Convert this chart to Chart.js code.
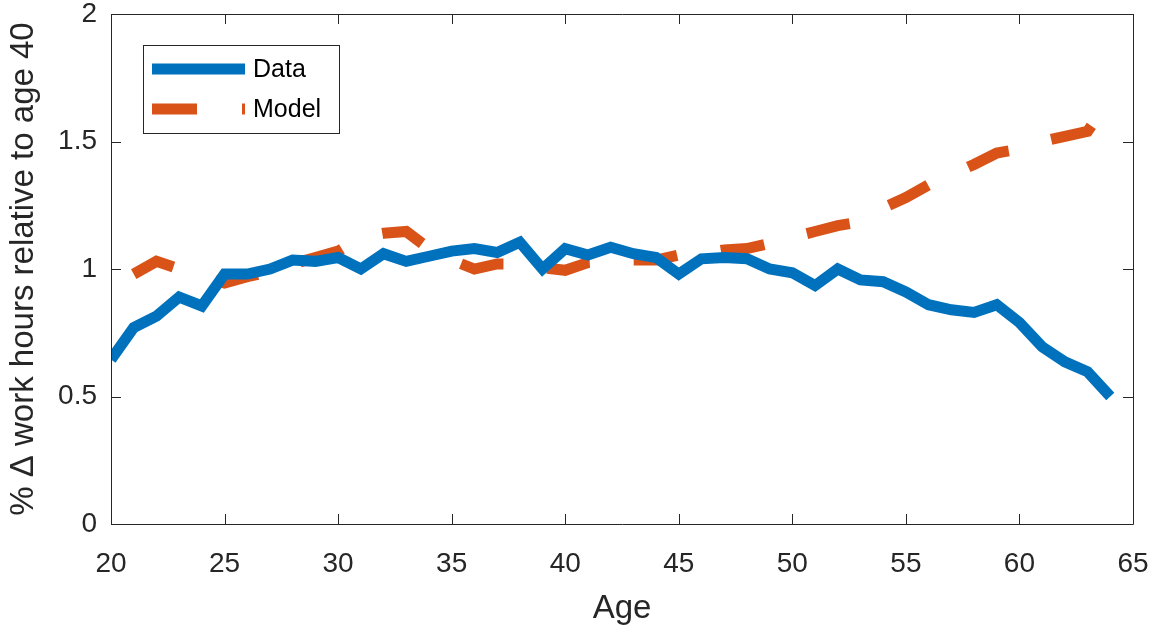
<!DOCTYPE html>
<html>
<head>
<meta charset="utf-8">
<script src="https://cdn.jsdelivr.net/npm/chart.js@4"></script>
<style>
  html, body { margin: 0; padding: 0; background: #ffffff; }
  #wrap { width: 1159px; height: 633px; position: relative; }
</style>
</head>
<body>
<div id="wrap"><canvas id="chart"></canvas></div>
<script>
// Ages 20..64
const ages = [20, 21, 22, 23, 24, 25, 26, 27, 28, 29, 30, 31, 32, 33, 34, 35, 36, 37, 38, 39, 40, 41,
  42, 43, 44, 45, 46, 47, 48, 49, 50, 51, 52, 53, 54, 55, 56, 57, 58, 59, 60, 61, 62, 63, 64];

const dataValues = [0.645, 0.77, 0.815, 0.89, 0.855, 0.98, 0.98, 1.0, 1.035, 1.03, 1.045, 1.0, 1.06, 1.03, 1.05,
  1.07, 1.08, 1.065, 1.105, 1.0, 1.08, 1.055, 1.085, 1.06, 1.045, 0.98, 1.04, 1.045, 1.04, 1.0,
  0.985, 0.935, 1.0, 0.957, 0.95, 0.91, 0.86, 0.84, 0.83, 0.86, 0.79, 0.695, 0.636, 0.597, 0.5];

const modelValues = [null, 0.98, 1.03, 1.0, 0.97, 0.945, 0.97, 0.99, 1.02, 1.045, 1.07, 1.125, 1.14, 1.147, 1.08,
  1.035, 1.0, 1.02, 1.02, 1.005, 0.995, 1.025, 1.03, 1.035, 1.035, 1.055, 1.06, 1.075, 1.08, 1.1,
  1.125, 1.147, 1.17, 1.185, 1.24, 1.28, 1.33, 1.37, 1.41, 1.455, 1.47, 1.5, 1.52, 1.54, 1.67];

const xTicks = [20, 25, 30, 35, 40, 45, 50, 55, 60, 65];
const yTicks = [0, 0.5, 1, 1.5, 2];

const axisColor = '#262626';
const blue = '#0072BD';
const orange = '#D95319';
const fontFamily = '"Liberation Sans", Arial, Helvetica, sans-serif';

function toPoints(vals) {
  return ages.map((a, i) => ({ x: a, y: vals[i] }));
}

// Box around the axes with inward ticks on all four sides (MATLAB style)
const boxPlugin = {
  id: 'boxAxes',
  afterDatasetsDraw(chart) {
    const { ctx, chartArea: a, scales } = chart;
    const len = 10;
    ctx.save();
    ctx.strokeStyle = axisColor;
    ctx.lineWidth = 1;
    ctx.beginPath();
    ctx.rect(Math.round(a.left) + 0.5, Math.round(a.top) + 0.5, Math.round(a.right - a.left), Math.round(a.bottom - a.top));
    xTicks.forEach(v => {
      const px = Math.round(scales.x.getPixelForValue(v)) + 0.5;
      ctx.moveTo(px, a.bottom); ctx.lineTo(px, a.bottom - len);
      ctx.moveTo(px, a.top); ctx.lineTo(px, a.top + len);
    });
    yTicks.forEach(v => {
      const py = Math.round(scales.y.getPixelForValue(v)) + 0.5;
      ctx.moveTo(a.left, py); ctx.lineTo(a.left + len, py);
      ctx.moveTo(a.right, py); ctx.lineTo(a.right - len, py);
    });
    ctx.stroke();
    ctx.restore();
  }
};

// Legend drawn inside the axes, top-left
const legendPlugin = {
  id: 'boxLegend',
  afterDraw(chart) {
    const { ctx } = chart;
    const x = 143, y = 45, w = 196, h = 88;
    ctx.save();
    ctx.fillStyle = '#ffffff';
    ctx.fillRect(x, y, w, h);
    ctx.strokeStyle = axisColor;
    ctx.lineWidth = 1;
    ctx.strokeRect(x + 0.5, y + 0.5, w, h);
    chart.data.datasets.forEach((ds, i) => {
      const ly = 69 + i * 40;
      ctx.strokeStyle = ds.borderColor;
      ctx.lineWidth = ds.borderWidth;
      ctx.lineCap = 'butt';
      ctx.setLineDash([45, 45]);
      if (!ds.borderDash) ctx.setLineDash([]);
      ctx.beginPath();
      ctx.moveTo(152, ly);
      ctx.lineTo(245, ly);
      ctx.stroke();
      ctx.setLineDash([]);
      ctx.fillStyle = '#000000';
      ctx.font = '25px ' + fontFamily;
      ctx.textBaseline = 'middle';
      ctx.textAlign = 'left';
      ctx.fillText(ds.label, 253, ly + 1);
    });
    ctx.restore();
  }
};

new Chart(document.getElementById('chart'), {
  type: 'line',
  data: {
    datasets: [{
      label: 'Data',
      data: toPoints(dataValues),
      borderColor: blue,
      borderWidth: 11,
      pointRadius: 0,
      fill: false,
      tension: 0
    }, {
      label: 'Model',
      data: toPoints(modelValues),
      borderColor: orange,
      borderWidth: 11,
      borderDash: [44, 44],
      borderCapStyle: 'butt',
      pointRadius: 0,
      fill: false,
      spanGaps: false,
      tension: 0
    }]
  },
  options: {
    responsive: true,
    maintainAspectRatio: false,
    animation: false,
    layout: { padding: { left: 0, right: 26, top: 14, bottom: 0 } },
    plugins: {
      legend: { display: false },
      tooltip: { enabled: false }
    },
    scales: {
      x: {
        type: 'linear',
        min: 20,
        max: 65,
        afterBuildTicks: s => { s.ticks = xTicks.map(v => ({ value: v })); },
        afterFit: s => { s.height = 109; s.paddingLeft = 0; s.paddingRight = 0; },
        grid: { display: false, drawTicks: false },
        border: { display: false },
        ticks: { color: axisColor, font: { family: fontFamily, size: 28 }, padding: 23, maxRotation: 0 },
        title: { display: true, text: 'Age', color: axisColor, font: { family: fontFamily, size: 33 }, padding: { top: 0, bottom: 4 } }
      },
      y: {
        min: 0,
        max: 2,
        afterBuildTicks: s => { s.ticks = yTicks.map(v => ({ value: v })); },
        afterFit: s => { s.width = 111; s.paddingTop = 0; s.paddingBottom = 0; },
        grid: { display: false, drawTicks: false },
        border: { display: false },
        ticks: { color: axisColor, font: { family: fontFamily, size: 28 }, padding: 14, callback: v => String(v) },
        title: { display: true, text: '% \u0394 work hours relative to age 40', color: axisColor, font: { family: fontFamily, size: 33 }, padding: { top: 4, bottom: 0 } }
      }
    }
  },
  plugins: [boxPlugin, legendPlugin]
});
</script>
</body>
</html>
